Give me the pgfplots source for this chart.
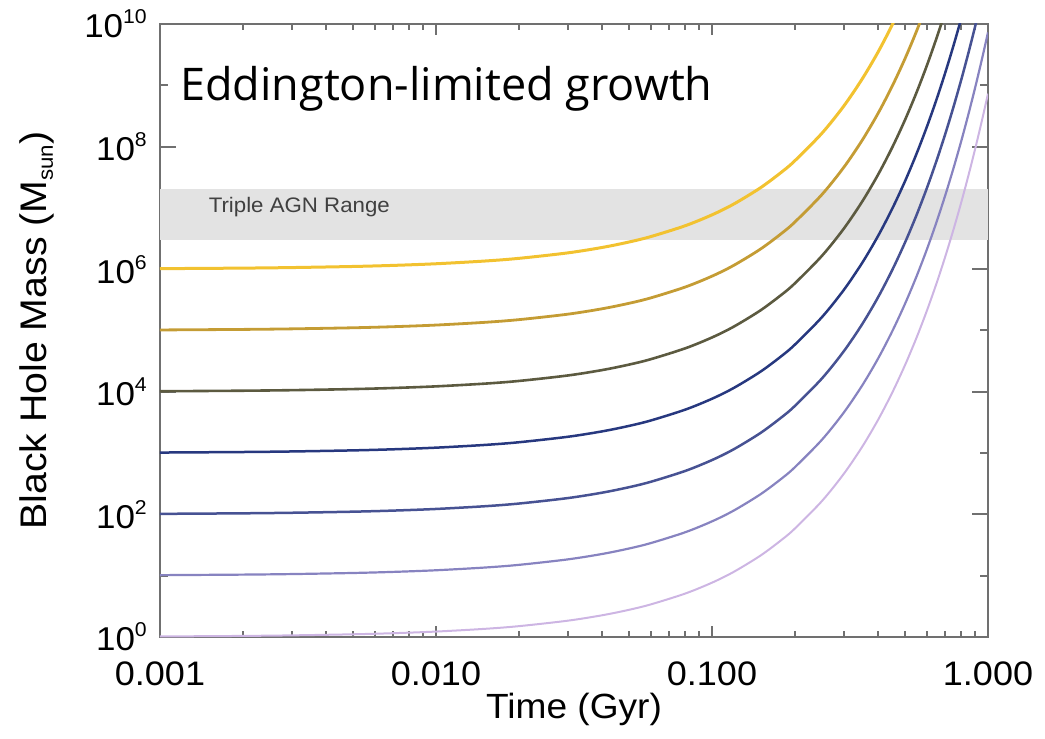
\documentclass[border=0pt]{standalone}
\usepackage{fontspec}
\setmainfont{Liberation Sans}[FakeStretch=1.06]
\newfontfamily\titlefont{Open Sans}
\usepackage{pgfplots}
\usepackage{pgfplotstable}
\pgfplotsset{compat=1.18}

\definecolor{axgray}{HTML}{707070}
\definecolor{bandgray}{HTML}{E3E3E3}
\definecolor{c6}{HTML}{F2C230}
\definecolor{c5}{HTML}{C49C34}
\definecolor{c4}{HTML}{5C5A40}
\definecolor{c3}{HTML}{27387F}
\definecolor{c2}{HTML}{475293}
\definecolor{c1}{HTML}{8783C0}
\definecolor{c0}{HTML}{CDB5E3}

\newcommand{\tp}[1]{10\raisebox{14pt}{\fontsize{20}{20}\selectfont #1}}

% M = M0 * growth factor, columns m0..m6 for seeds 1e0..1e6 Msun
\pgfplotstableread{
t m0 m1 m2 m3 m4 m5 m6
0.001 1.0206 1.0206e1 1.0206e2 1.0206e3 1.0206e4 1.0206e5 1.0206e6
0.002 1.0417 1.0417e1 1.0417e2 1.0417e3 1.0417e4 1.0417e5 1.0417e6
0.003 1.0632 1.0632e1 1.0632e2 1.0632e3 1.0632e4 1.0632e5 1.0632e6
0.005 1.1074 1.1074e1 1.1074e2 1.1074e3 1.1074e4 1.1074e5 1.1074e6
0.007 1.1536 1.1536e1 1.1536e2 1.1536e3 1.1536e4 1.1536e5 1.1536e6
0.01 1.2264 1.2264e1 1.2264e2 1.2264e3 1.2264e4 1.2264e5 1.2264e6
0.015 1.3582 1.3582e1 1.3582e2 1.3582e3 1.3582e4 1.3582e5 1.3582e6
0.02 1.5040 1.5040e1 1.5040e2 1.5040e3 1.5040e4 1.5040e5 1.5040e6
0.03 1.8446 1.8446e1 1.8446e2 1.8446e3 1.8446e4 1.8446e5 1.8446e6
0.04 2.2622 2.2622e1 2.2622e2 2.2622e3 2.2622e4 2.2622e5 2.2622e6
0.05 2.7744 2.7744e1 2.7744e2 2.7744e3 2.7744e4 2.7744e5 2.7744e6
0.06 3.4024 3.4024e1 3.4024e2 3.4024e3 3.4024e4 3.4024e5 3.4024e6
0.08 5.1174 5.1174e1 5.1174e2 5.1174e3 5.1174e4 5.1174e5 5.1174e6
0.1 7.6970 7.6970e1 7.6970e2 7.6970e3 7.6970e4 7.6970e5 7.6970e6
0.12 1.1576e1 1.1576e2 1.1576e3 1.1576e4 1.1576e5 1.1576e6 1.1576e7
0.15 2.1354e1 2.1354e2 2.1354e3 2.1354e4 2.1354e5 2.1354e6 2.1354e7
0.18 3.9387e1 3.9387e2 3.9387e3 3.9387e4 3.9387e5 3.9387e6 3.9387e7
0.2 5.9240e1 5.9240e2 5.9240e3 5.9240e4 5.9240e5 5.9240e6 5.9240e7
0.25 1.6435e2 1.6435e3 1.6435e4 1.6435e5 1.6435e6 1.6435e7 1.6435e8
0.3 4.5596e2 4.5596e3 4.5596e4 4.5596e5 4.5596e6 4.5596e7 4.5596e8
0.35 1.2650e3 1.2650e4 1.2650e5 1.2650e6 1.2650e7 1.2650e8 1.2650e9
0.4 3.5094e3 3.5094e4 3.5094e5 3.5094e6 3.5094e7 3.5094e8 3.5094e9
0.45 9.7364e3 9.7364e4 9.7364e5 9.7364e6 9.7364e7 9.7364e8 9.7364e9
0.5 2.7012e4 2.7012e5 2.7012e6 2.7012e7 2.7012e8 2.7012e9 2.7012e10
0.55 7.4940e4 7.4940e5 7.4940e6 7.4940e7 7.4940e8 7.4940e9 7.4940e10
0.6 2.0790e5 2.0790e6 2.0790e7 2.0790e8 2.0790e9 2.0790e10 2.0790e11
0.65 5.7679e5 5.7679e6 5.7679e7 5.7679e8 5.7679e9 5.7679e10 5.7679e11
0.7 1.6002e6 1.6002e7 1.6002e8 1.6002e9 1.6002e10 1.6002e11 1.6002e12
0.75 4.4394e6 4.4394e7 4.4394e8 4.4394e9 4.4394e10 4.4394e11 4.4394e12
0.8 1.2316e7 1.2316e8 1.2316e9 1.2316e10 1.2316e11 1.2316e12 1.2316e13
0.85 3.4170e7 3.4170e8 3.4170e9 3.4170e10 3.4170e11 3.4170e12 3.4170e13
0.9 9.4795e7 9.4795e8 9.4795e9 9.4795e10 9.4795e11 9.4795e12 9.4795e13
0.95 2.6300e8 2.6300e9 2.6300e10 2.6300e11 2.6300e12 2.6300e13 2.6300e14
1.0 7.2960e8 7.2960e9 7.2960e10 7.2960e11 7.2960e12 7.2960e13 7.2960e14
}\curves

\begin{document}
\begin{tikzpicture}
\begin{axis}[
  scale only axis,
  width=828pt, height=613pt,
  xmode=log, ymode=log,
  xmin=0.001, xmax=1, ymin=1, ymax=1e10,
  xtick={0.001,0.01,0.1,1},
  xticklabels={0.001,0.010,0.100,1.000},
  ytick={1,1e2,1e4,1e6,1e8,1e10},
  yticklabels={\tp{0},\tp{2},\tp{4},\tp{6},\tp{8},\tp{10}},
  minor ytick={1e1,1e3,1e5,1e7,1e9},
  tick align=inside, tick pos=both,
  major tick length=16pt, minor tick length=8pt,
  xtick style={/pgfplots/major tick length=11pt,/pgfplots/minor tick length=6pt},
  every tick/.style={draw=axgray, line width=2pt},
  axis line style={draw=axgray, line width=2.5pt},
  xticklabel style={font=\fontsize{34}{40}\selectfont, anchor=north, inner sep=0pt, yshift=-25pt},
  yticklabel style={font=\fontsize{33}{40}\selectfont, anchor=east, inner sep=0pt, xshift=-13pt},
  xlabel={Time (Gyr)},
  xlabel style={font=\fontsize{35}{40}\selectfont, at={(axis description cs:0.5,0)}, anchor=base, inner sep=0pt, yshift=-81pt},
  ylabel={Black Hole Mass (M\raisebox{-6pt}{\fontsize{21}{21}\selectfont sun})},
  ylabel style={font=\fontsize{37}{40}\selectfont, at={(axis description cs:0,0.5)}, anchor=base, inner sep=0pt, yshift=113pt},
]
\coordinate (bl) at (rel axis cs:0,0);
\coordinate (tr) at (rel axis cs:1,1);

\addplot[draw=none, fill=bandgray] coordinates {(0.001,3e6) (1,3e6) (1,2e7) (0.001,2e7)} -- cycle;
\node[anchor=base west, inner sep=0pt, text=black!75, font=\fontsize{21}{24}\selectfont] at (axis cs:0.0015,8.26e6) {Triple AGN Range};

\addplot[c0, line width=2pt, smooth] table[x=t, y=m0] {\curves};
\addplot[c1, line width=2.2pt, smooth] table[x=t, y=m1] {\curves};
\addplot[c2, line width=2.5pt, smooth] table[x=t, y=m2] {\curves};
\addplot[c3, line width=2.5pt, smooth] table[x=t, y=m3] {\curves};
\addplot[c4, line width=2.6pt, smooth] table[x=t, y=m4] {\curves};
\addplot[c5, line width=2.8pt, smooth] table[x=t, y=m5] {\curves};
\addplot[c6, line width=3pt, smooth] table[x=t, y=m6] {\curves};

\node[anchor=base west, inner sep=0pt, font=\titlefont\fontsize{45}{50}\selectfont] at (axis cs:0.001182,5.75e8) {Eddington-limited growth};
\end{axis}
\pgfresetboundingbox
\path[use as bounding box] ([shift={(-160pt,-101pt)}]bl) rectangle ([shift={(57pt,24pt)}]tr);
\end{tikzpicture}
\end{document}
